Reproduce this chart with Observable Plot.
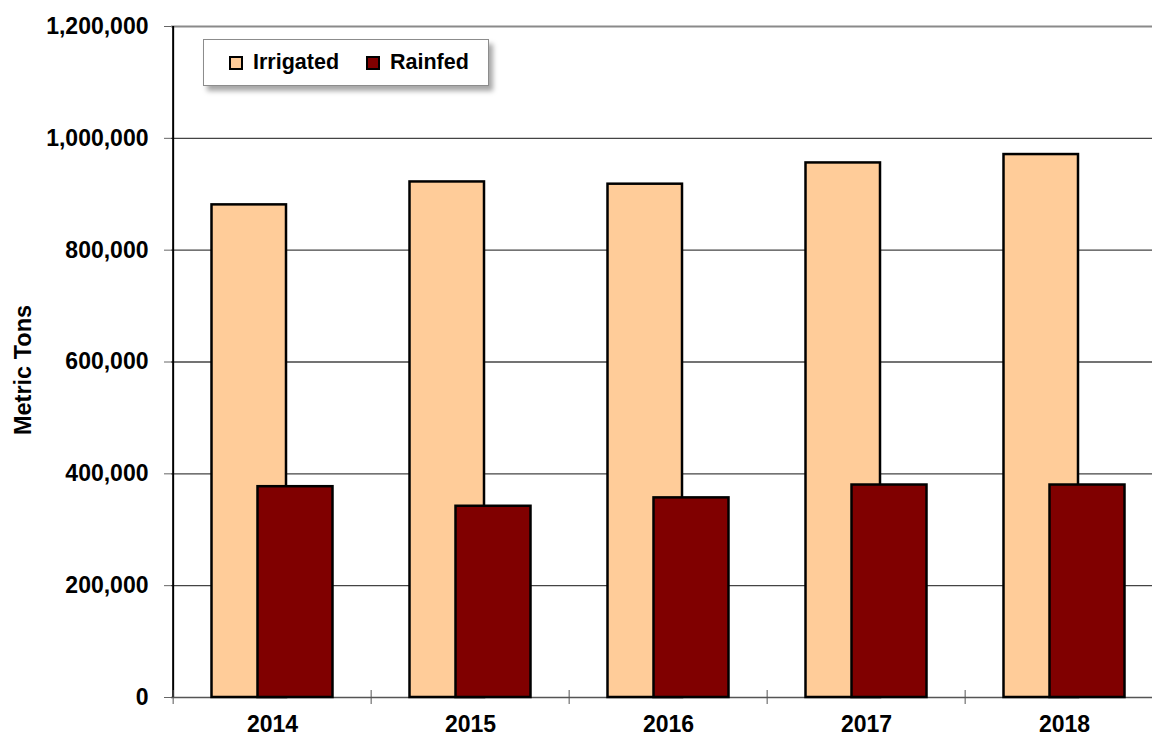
<!DOCTYPE html>
<html>
<head>
<meta charset="utf-8">
<script src="https://cdn.jsdelivr.net/npm/d3@7"></script>
<script src="https://cdn.jsdelivr.net/npm/@observablehq/plot@0.6"></script>
<style>
  body { margin: 0; background: #fff; }
  #wrap { position: relative; width: 1152px; height: 736px; overflow: hidden; font-family: "Liberation Sans", Arial, sans-serif; }
  #legend { position: absolute; left: 203px; top: 39px; width: 284px; height: 45px; background: #fff; border: 1px solid #8c8c8c; box-shadow: 4px 5px 5px rgba(0,0,0,0.35); font-weight: bold; font-size: 21.5px; color: #000; }
  .item { position: absolute; top: 0; height: 45px; display: flex; align-items: center; }
  .sw { display: inline-block; width: 10px; height: 10px; border: 2px solid #000; margin-right: 10px; }
</style>
</head>
<body>
<div id="wrap">
  <div id="chart"></div>
  <div id="legend"></div>
</div>
<script>
const years = ["2014", "2015", "2016", "2017", "2018"];
const irrigated = [881000, 922000, 918000, 956000, 971000];
const rainfed = [377000, 342000, 357000, 380000, 380000];
const yTicks = [0, 200000, 400000, 600000, 800000, 1000000, 1200000];
const seriesNames = ["Irrigated", "Rainfed"];
const seriesColors = ["#FFCC99", "#800000"];

const irrData = years.map((y, i) => ({year: y, value: irrigated[i]}));
const rainData = years.map((y, i) => ({year: y, value: rainfed[i]}));

const x0 = 171, x1 = 1164.5;
const bw = (x1 - x0) / years.length;
const font = "'Liberation Sans', Arial, sans-serif";

const chart = Plot.plot({
  width: 1152,
  height: 736,
  marginLeft: 171,
  marginRight: 0,
  marginTop: 26,
  marginBottom: 39,
  style: {fontFamily: font, fontSize: "23px", fontWeight: "bold", background: "#fff", color: "#000"},
  x: {type: "band", domain: years, range: [x0, x1], padding: 0},
  y: {domain: [0, 1200000]},
  marks: [
    Plot.ruleY(yTicks.slice(1, -1), {stroke: "#444", strokeWidth: 1.3}),
    Plot.ruleY([1200000], {stroke: "#8a8a8a", strokeWidth: 2}),
    Plot.ruleY([0], {stroke: "#555", strokeWidth: 1.5}),
    Plot.barY(irrData, {x: "year", y: "value", fill: seriesColors[0], stroke: "#000", strokeWidth: 2.5, insetLeft: 38.5, insetRight: 85}),
    Plot.barY(rainData, {x: "year", y: "value", fill: seriesColors[1], stroke: "#000", strokeWidth: 2.5, insetLeft: 84.5, insetRight: 38.5}),
    Plot.ruleX([years[0]], {dx: -bw / 2, stroke: "#000", strokeWidth: 2}),
    Plot.axisY({ticks: yTicks, tickSize: 7, tickPadding: 16, tickFormat: d3.format(","), stroke: "#666", fontSize: 23, fontWeight: "bold", label: null}),
    Plot.axisX({ticks: years, tickSize: 14, text: null, dx: -bw / 2, dy: -7, stroke: "#555", label: null}),
    Plot.axisX({ticks: years, tickSize: 0, tickPadding: 18, fontSize: 23, fontWeight: "bold", label: null}),
    Plot.text(["Metric Tons"], {frameAnchor: "left", textAnchor: "middle", rotate: -90, dx: -148, dy: 8, fontSize: 23.5, fontWeight: "bold", fill: "#000"})
  ]
});
document.getElementById("chart").appendChild(chart);

const legend = document.getElementById("legend");
const lefts = [25, 162];
seriesNames.forEach((name, i) => {
  const it = document.createElement("div");
  it.className = "item";
  it.style.left = lefts[i] + "px";
  const sw = document.createElement("span");
  sw.className = "sw";
  sw.style.background = seriesColors[i];
  it.appendChild(sw);
  it.appendChild(document.createTextNode(name));
  legend.appendChild(it);
});
</script>
</body>
</html>
